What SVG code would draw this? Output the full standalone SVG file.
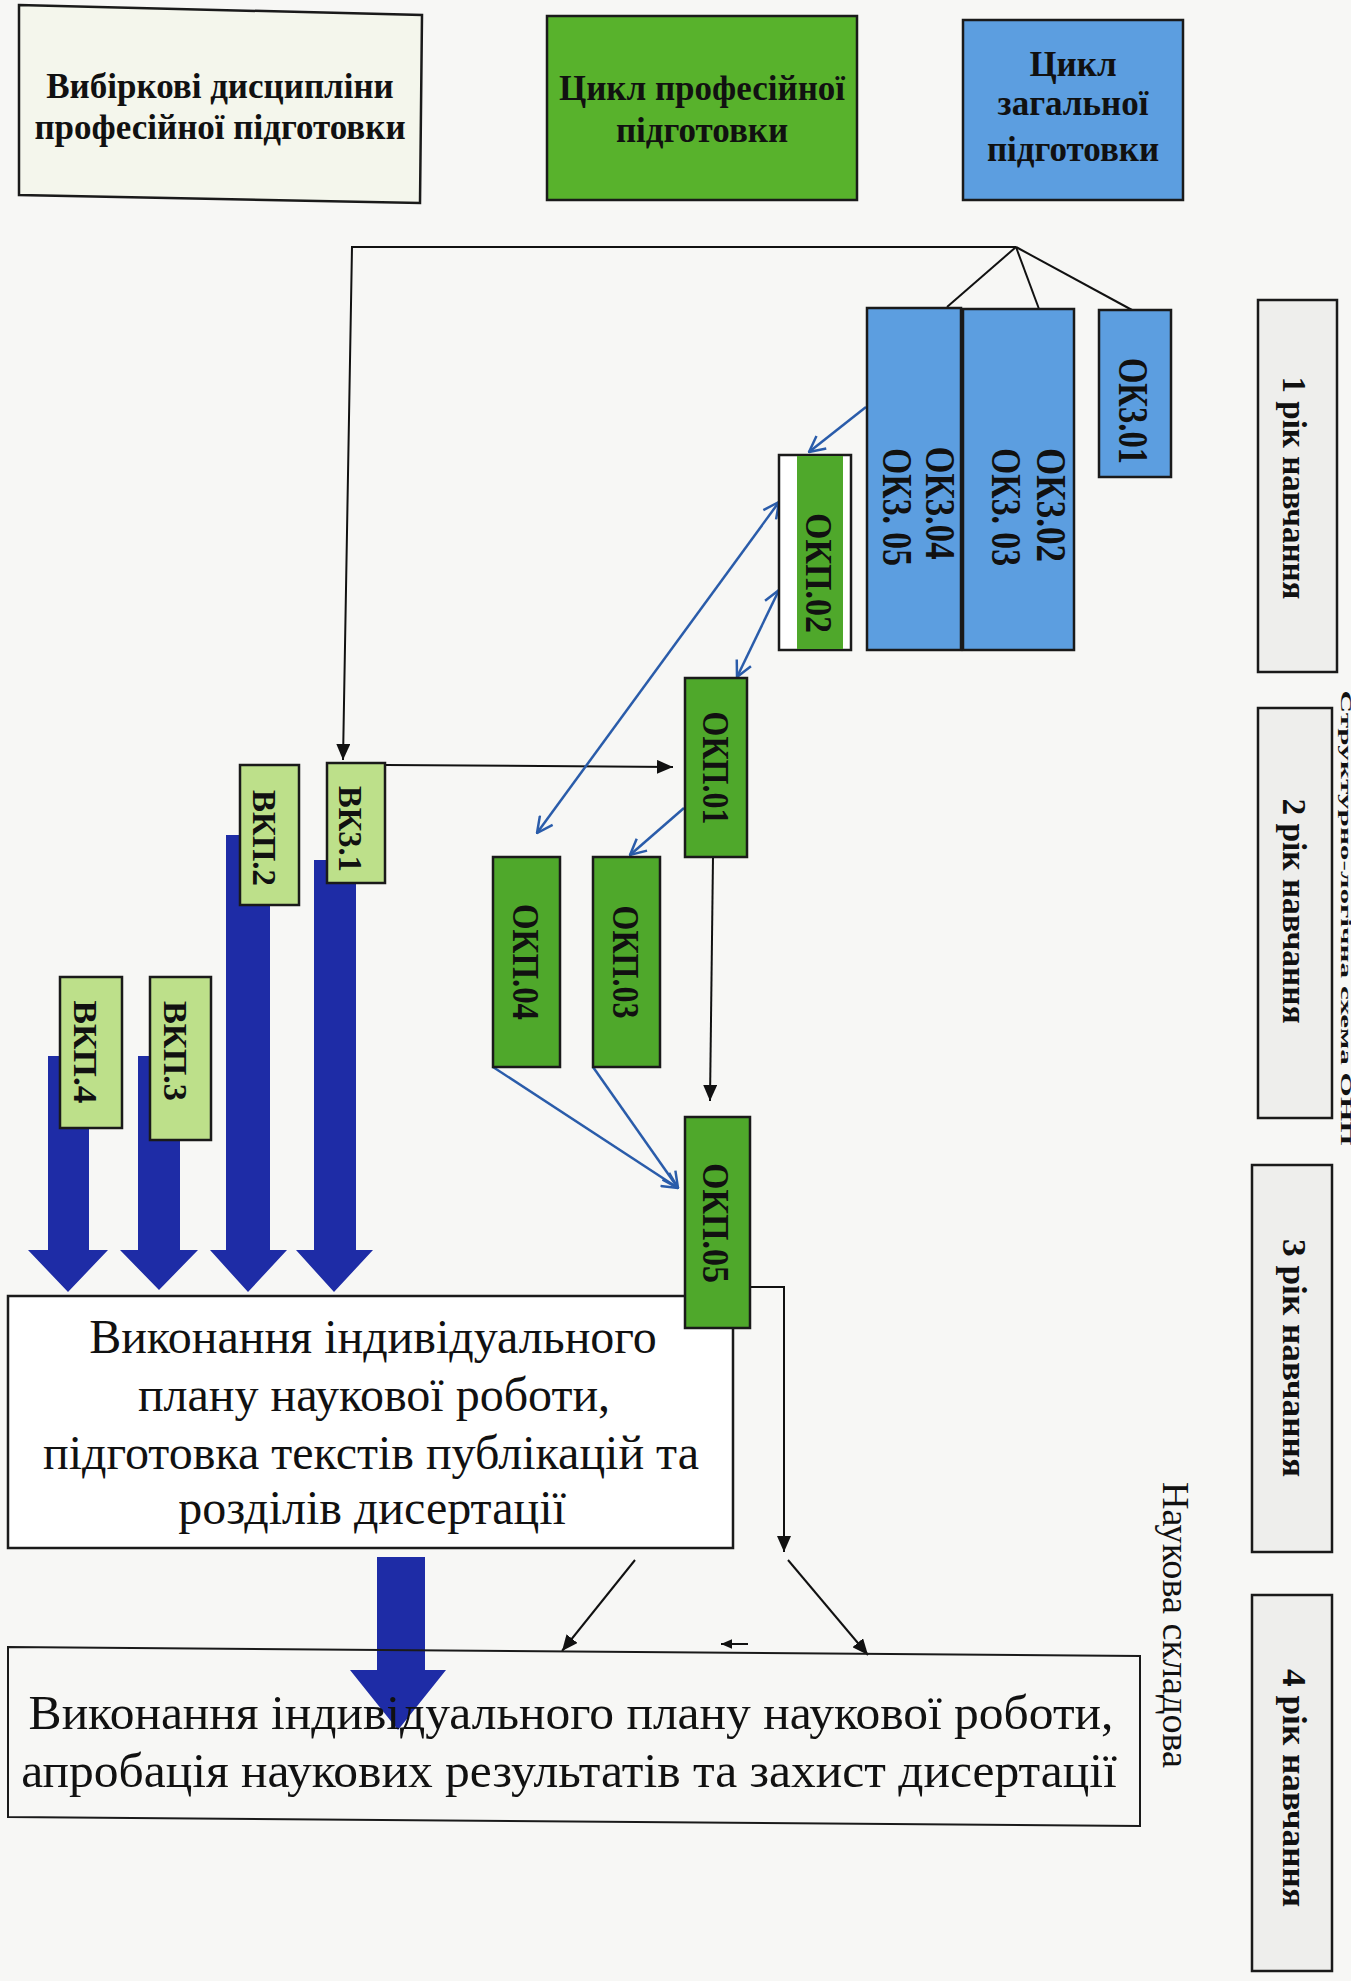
<svg xmlns="http://www.w3.org/2000/svg" width="1351" height="1981" viewBox="0 0 1351 1981">
<style>
  .serif{font-family:"Liberation Serif","Times New Roman",serif;fill:#111}
  .b{font-weight:bold}
  .box{stroke:#1a1a1a;stroke-width:2.5}
  .ok3{fill:#5c9ee0}
  .okp{fill:#4fa82b}
  .vk{fill:#bde08a}
  .year{fill:#eeeeec}
  .blk{fill:none;stroke:#111;stroke-width:2}
  .blu{fill:none;stroke:#2a5caa;stroke-width:2.5}
  .bigarrow{fill:#1e2ca6}
</style>
<defs>
  <marker id="bo" viewBox="0 0 16 16" refX="15" refY="8" markerWidth="18" markerHeight="18" markerUnits="userSpaceOnUse" orient="auto-start-reverse">
    <path d="M1,1 L15,8 L1,15" fill="none" stroke="#2a5caa" stroke-width="2.2"/>
  </marker>
  <marker id="bk" viewBox="0 0 16 14" refX="16" refY="7" markerWidth="16" markerHeight="14" markerUnits="userSpaceOnUse" orient="auto">
    <path d="M0,0 L16,7 L0,14 Z" fill="#111"/>
  </marker>
  <marker id="bks" viewBox="0 0 16 14" refX="16" refY="7" markerWidth="11" markerHeight="10" markerUnits="userSpaceOnUse" orient="auto">
    <path d="M0,0 L16,7 L0,14 Z" fill="#111"/>
  </marker>
</defs>
<rect x="0" y="0" width="1351" height="1981" fill="#f7f7f5"/>

<g id="connectors">
  <!-- block arrows from elective courses -->
  <polygon class="bigarrow" points="314,860 356,860 356,1250 373,1250 334,1292 296,1250 314,1250"/>
  <polygon class="bigarrow" points="226,835 270,835 270,1250 287,1250 248,1292 210,1250 226,1250"/>
  <polygon class="bigarrow" points="138,1056 180,1056 180,1250 198,1250 159,1290 120,1250 138,1250"/>
  <polygon class="bigarrow" points="48,1056 89,1056 89,1250 108,1250 68,1292 28,1250 48,1250"/>
  <!-- big arrow between result boxes -->
  <polygon class="bigarrow" points="377,1557 425,1557 425,1670 446,1670 398,1730 350,1670 377,1670"/>
  <!-- black lines -->
  <path class="blk" d="M1016,247 L352,247 L343,760" marker-end="url(#bk)"/>
  <path class="blk" d="M1016,247 L947,307"/>
  <path class="blk" d="M1016,247 L1039,309" stroke-width="1.3"/>
  <path class="blk" d="M1016,247 L1132,310"/>
  <path class="blk" d="M386,765 L673,767" marker-end="url(#bk)"/>
  <path class="blk" d="M713,857 L710,1101" marker-end="url(#bk)"/>
  <path class="blk" d="M750,1287 H784 V1552" stroke-width="1.6" marker-end="url(#bk)"/>
  <path class="blk" d="M635,1560 L562,1651" stroke-width="1.6" marker-end="url(#bk)"/>
  <path class="blk" d="M788,1560 L868,1655" stroke-width="1.6" marker-end="url(#bk)"/>
  <path class="blk" d="M748,1644 L721,1644" stroke-width="1.5" marker-end="url(#bks)"/>
  <!-- blue links -->
  <path class="blu" d="M866,407 L809,452" marker-end="url(#bo)"/>
  <path class="blu" d="M779,502 L537,833" marker-start="url(#bo)" marker-end="url(#bo)"/>
  <path class="blu" d="M779,590 L737,677" marker-start="url(#bo)" marker-end="url(#bo)"/>
  <path class="blu" d="M684,808 L630,855" marker-end="url(#bo)"/>
  <path class="blu" d="M493,1067 L678,1188" marker-end="url(#bo)"/>
  <path class="blu" d="M593,1067 L678,1188" marker-end="url(#bo)"/>
</g>

<!-- legend -->
<g id="legend-elective">
  <polygon class="box" points="19,5 422,15 420,203 19,195" fill="#f4f6ec"/>
  <text class="serif b" x="220" y="98" font-size="35" text-anchor="middle">Вибіркові дисципліни</text>
  <text class="serif b" x="220" y="139" font-size="35" text-anchor="middle">професійної підготовки</text>
</g>
<g id="legend-professional">
  <rect class="box" x="547" y="16" width="310" height="184" fill="#58b22c"/>
  <text class="serif b" x="702" y="100" font-size="35" text-anchor="middle">Цикл професійної</text>
  <text class="serif b" x="702" y="142" font-size="35" text-anchor="middle">підготовки</text>
</g>
<g id="legend-general">
  <rect class="box ok3" x="963" y="20" width="220" height="180"/>
  <text class="serif b" x="1073" y="76" font-size="35" text-anchor="middle">Цикл</text>
  <text class="serif b" x="1073" y="115" font-size="35" text-anchor="middle">загальної</text>
  <text class="serif b" x="1073" y="161" font-size="35" text-anchor="middle">підготовки</text>
</g>

<!-- general training -->
<g id="OK3-01">
  <rect class="box ok3" x="1099" y="310" width="72" height="167"/>
  <text class="serif b" transform="translate(1133,411) rotate(90)" x="0" y="14" font-size="42" text-anchor="middle" textLength="106" lengthAdjust="spacingAndGlyphs">ОК3.01</text>
</g>
<g id="OK3-02-03">
  <rect class="box ok3" x="963" y="309" width="111" height="341"/>
  <text class="serif b" transform="translate(1051,505) rotate(90)" x="0" y="14" font-size="42" text-anchor="middle" textLength="114" lengthAdjust="spacingAndGlyphs">ОК3.02</text>
  <text class="serif b" transform="translate(1006,507) rotate(90)" x="0" y="14" font-size="42" text-anchor="middle" textLength="118" lengthAdjust="spacingAndGlyphs">ОК3. 03</text>
</g>
<g id="OK3-04-05">
  <rect class="box ok3" x="867" y="308" width="94" height="342"/>
  <text class="serif b" transform="translate(940,503) rotate(90)" x="0" y="14" font-size="42" text-anchor="middle" textLength="113" lengthAdjust="spacingAndGlyphs">ОК3.04</text>
  <text class="serif b" transform="translate(897,507) rotate(90)" x="0" y="14" font-size="42" text-anchor="middle" textLength="118" lengthAdjust="spacingAndGlyphs">ОК3. 05</text>
</g>

<!-- professional training -->
<g id="OKP-02">
  <rect class="box" x="779" y="455" width="72" height="195" fill="#ffffff"/>
  <rect class="okp" x="797" y="456" width="46" height="193"/>
  <text class="serif b" transform="translate(819,573) rotate(90)" x="0" y="13" font-size="38" text-anchor="middle" textLength="120" lengthAdjust="spacingAndGlyphs">ОКП.02</text>
</g>
<g id="OKP-01">
  <rect class="box okp" x="685" y="678" width="62" height="179"/>
  <text class="serif b" transform="translate(716,768) rotate(90)" x="0" y="13" font-size="38" text-anchor="middle" textLength="113" lengthAdjust="spacingAndGlyphs">ОКП.01</text>
</g>
<g id="OKP-03">
  <rect class="box okp" x="593" y="857" width="67" height="210"/>
  <text class="serif b" transform="translate(626,962) rotate(90)" x="0" y="13" font-size="38" text-anchor="middle" textLength="113" lengthAdjust="spacingAndGlyphs">ОКП.03</text>
</g>
<g id="OKP-04">
  <rect class="box okp" x="493" y="857" width="67" height="210"/>
  <text class="serif b" transform="translate(526,962) rotate(90)" x="0" y="13" font-size="38" text-anchor="middle" textLength="116" lengthAdjust="spacingAndGlyphs">ОКП.04</text>
</g>

<!-- research boxes -->
<g id="research-1">
  <rect class="box" x="8" y="1296" width="725" height="252" fill="#ffffff" stroke-width="2"/>
  <text class="serif" x="373" y="1353" font-size="48" text-anchor="middle">Виконання індивідуального</text>
  <text class="serif" x="374" y="1411" font-size="48" text-anchor="middle">плану наукової роботи,</text>
  <text class="serif" x="371" y="1469" font-size="48" text-anchor="middle">підготовка текстів публікацій та</text>
  <text class="serif" x="372" y="1524" font-size="48" text-anchor="middle">розділів дисертації</text>
</g>
<g id="OKP-05">
  <rect class="box okp" x="685" y="1117" width="65" height="211"/>
  <text class="serif b" transform="translate(716,1223) rotate(90)" x="0" y="13" font-size="38" text-anchor="middle" textLength="120" lengthAdjust="spacingAndGlyphs">ОКП.05</text>
</g>
<g id="research-2">
  <polygon points="8,1647 1140,1656 1140,1826 8,1817" fill="none" stroke="#1a1a1a" stroke-width="2"/>
  <text class="serif" x="571" y="1729" font-size="49.5" text-anchor="middle">Виконання індивідуального плану наукової роботи,</text>
  <text class="serif" x="569" y="1787" font-size="49.5" text-anchor="middle">апробація наукових результатів та захист дисертації</text>
</g>

<!-- electives -->
<g id="VK3-1">
  <rect class="box vk" x="327" y="763" width="58" height="120"/>
  <text class="serif b" transform="translate(351,829) rotate(90)" x="0" y="12" font-size="34" text-anchor="middle" textLength="86" lengthAdjust="spacingAndGlyphs">ВК3.1</text>
</g>
<g id="VKP-2">
  <rect class="box vk" x="240" y="765" width="59" height="140"/>
  <text class="serif b" transform="translate(265,838) rotate(90)" x="0" y="12" font-size="34" text-anchor="middle" textLength="96" lengthAdjust="spacingAndGlyphs">ВКП.2</text>
</g>
<g id="VKP-3">
  <rect class="box vk" x="150" y="977" width="61" height="163"/>
  <text class="serif b" transform="translate(176,1051) rotate(90)" x="0" y="12" font-size="34" text-anchor="middle" textLength="100" lengthAdjust="spacingAndGlyphs">ВКП.3</text>
</g>
<g id="VKP-4">
  <rect class="box vk" x="60" y="977" width="62" height="151"/>
  <text class="serif b" transform="translate(86,1052) rotate(90)" x="0" y="12" font-size="34" text-anchor="middle" textLength="103" lengthAdjust="spacingAndGlyphs">ВКП.4</text>
</g>

<!-- years -->
<g id="year-1">
  <rect class="box year" x="1258" y="300" width="79" height="372"/>
  <text class="serif b" transform="translate(1294,488) rotate(90)" x="0" y="11" font-size="34" text-anchor="middle" textLength="223" lengthAdjust="spacingAndGlyphs">1 рік навчання</text>
</g>
<g id="year-2">
  <rect class="box year" x="1258" y="708" width="74" height="410"/>
  <text class="serif b" transform="translate(1294,911) rotate(90)" x="0" y="11" font-size="34" text-anchor="middle" textLength="225" lengthAdjust="spacingAndGlyphs">2 рік навчання</text>
</g>
<g id="year-3">
  <rect class="box year" x="1252" y="1165" width="80" height="387"/>
  <text class="serif b" transform="translate(1294,1358) rotate(90)" x="0" y="11" font-size="34" text-anchor="middle" textLength="238" lengthAdjust="spacingAndGlyphs">3 рік навчання</text>
</g>
<g id="year-4">
  <rect class="box year" x="1252" y="1595" width="80" height="376"/>
  <text class="serif b" transform="translate(1294,1788) rotate(90)" x="0" y="11" font-size="34" text-anchor="middle" textLength="238" lengthAdjust="spacingAndGlyphs">4 рік навчання</text>
</g>

<g id="labels">
  <text class="serif" transform="translate(1175,1625) rotate(90)" x="0" y="12" font-size="38" text-anchor="middle" textLength="286" lengthAdjust="spacingAndGlyphs">Наукова складова</text>
  <text class="serif b" transform="translate(1341,918) rotate(90)" x="0" y="0" font-size="15" text-anchor="middle" textLength="455" lengthAdjust="spacingAndGlyphs">Структурно-логічна схема ОНП</text>
</g>
</svg>
